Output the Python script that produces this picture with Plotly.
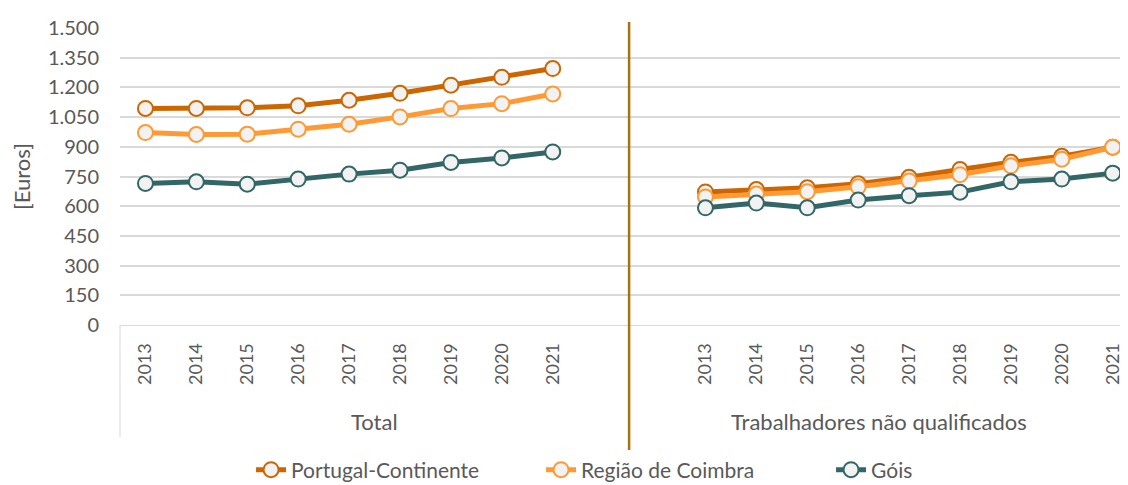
import plotly.graph_objects as go

# categories
years = ["2013", "2014", "2015", "2016", "2017", "2018", "2019", "2020", "2021"]
groups = ["Total", "Trabalhadores não qualificados"]

# series values (Euros) - Total group
total_portugal = [1094, 1094, 1097, 1107, 1135, 1170, 1211, 1251, 1295]
total_coimbra = [972, 962, 964, 989, 1014, 1051, 1093, 1118, 1167]
total_gois = [715, 723, 711, 737, 762, 782, 821, 844, 874]

# series values (Euros) - Trabalhadores não qualificados
tnq_portugal = [672, 684, 693, 714, 746, 785, 822, 852, 898]
tnq_coimbra = [647, 661, 673, 698, 727, 759, 804, 837, 898]
tnq_gois = [592, 616, 592, 631, 653, 671, 723, 737, 767]

y_ticks = [0, 150, 300, 450, 600, 750, 900, 1050, 1200, 1350, 1500]

# slot positions: 9 years, two empty slots, 9 years
left_x = list(range(0, 9))
right_x = list(range(11, 20))

series = [
    ("Portugal-Continente", total_portugal, tnq_portugal, "#CC6600"),
    ("Região de Coimbra", total_coimbra, tnq_coimbra, "#FF9933"),
    ("Góis", total_gois, tnq_gois, "#336666"),
]

FONT = "Lato"
GREY = "#595959"
HEIGHT = 477

fig = go.Figure()
for name, left_vals, right_vals, color in series:
    fig.add_trace(go.Scatter(
        x=left_x + [None] + right_x,
        y=left_vals + [None] + right_vals,
        name=name, mode="lines+markers",
        line=dict(color=color, width=5),
        marker=dict(size=15, color="#F2F2F2", line=dict(color=color, width=2)),
        connectgaps=False,
    ))

# the page body adds an 8px margin, so the figure is shifted by 8px
fig.update_layout(
    width=1120, height=HEIGHT,
    margin=dict(l=112, r=0, t=20, b=160),
    plot_bgcolor="white", paper_bgcolor="white",
    separators=",.",
    font=dict(family=FONT, size=18, color=GREY),
    xaxis=dict(
        range=[-0.5, 19.3], tickmode="array",
        tickvals=left_x + right_x, ticktext=years + years,
        tickangle=-90, showgrid=False, zeroline=False,
        showline=True, linecolor="#D9D9D9", linewidth=1,
        tickfont=dict(size=18, color=GREY), ticklabelstandoff=10,
        automargin=False,
    ),
    yaxis=dict(
        range=[0, 1500], tickvals=y_ticks, tickformat=",d",
        showgrid=True, gridcolor="#D9D9D9", gridwidth=1.5, zeroline=False,
        title=dict(text="[Euros]", standoff=18, font=dict(size=22, color=GREY)),
        tickfont=dict(size=20, color=GREY), ticklabelstandoff=20,
        automargin=False,
    ),
    legend=dict(
        orientation="h", x=0.13, xanchor="left",
        yref="container", y=1 - 462 / HEIGHT, yanchor="middle",
        font=dict(size=21, color=GREY), entrywidth=245, entrywidthmode="pixels",
    ),
    showlegend=True,
)

# group labels, centred on the visible span of each group
for label, cx in zip(groups, [4.5, 14.4]):
    fig.add_annotation(text=label, x=cx, xref="x", y=-0.326, yref="paper",
                       yanchor="middle", showarrow=False,
                       font=dict(size=22, color=GREY))

# left border of category area and group divider
fig.add_shape(type="line", xref="paper", x0=0, x1=0, yref="paper", y0=0, y1=-0.377,
              line=dict(color="#D9D9D9", width=1))
fig.add_shape(type="line", xref="x", x0=9.5, x1=9.5, yref="paper", y0=-0.427, y1=1.02,
              line=dict(color="#A8730E", width=2.5))

fig.write_html("out.html")
